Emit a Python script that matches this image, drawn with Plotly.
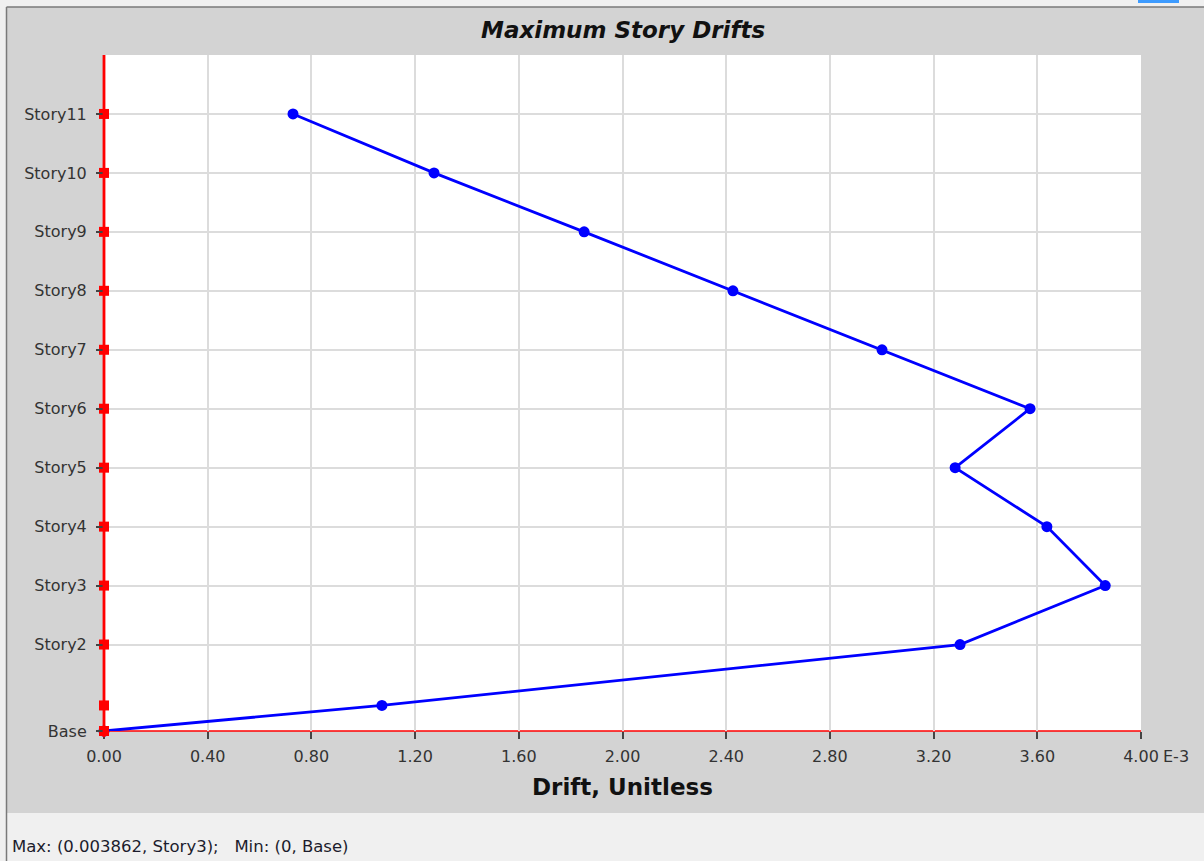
import plotly.graph_objects as go

# Story levels (elevation in m) and maximum drift per story (unitless)
stories = ["Base", "Story1", "Story2", "Story3", "Story4", "Story5", "Story6",
           "Story7", "Story8", "Story9", "Story10", "Story11"]
elevations = [0.0, 1.3, 4.4, 7.4, 10.4, 13.4, 16.4, 19.4, 22.4, 25.4, 28.4, 31.4]
drifts = [0.0, 0.001072, 0.003302, 0.003862, 0.003637, 0.003283, 0.003572,
          0.003001, 0.002426, 0.001852, 0.001273, 0.000729]

# Labelled story levels on the vertical axis
y_labels = ["Base", "Story2", "Story3", "Story4", "Story5", "Story6",
            "Story7", "Story8", "Story9", "Story10", "Story11"]
# Horizontal tick values, in units of 1E-3
x_ticks_e3 = [0.0, 0.4, 0.8, 1.2, 1.6, 2.0, 2.4, 2.8, 3.2, 3.6, 4.0]

W, H = 1204, 861
L, R, T, B = 104, 1141, 55, 731
FONT = "DejaVu Sans"


def px(x):
    return (x - L) / (R - L)


def py(y):
    return (B - y) / (B - T)


y_tickvals = [elevations[stories.index(s)] for s in y_labels]
x_tickvals = [v * 1e-3 for v in x_ticks_e3]
x_ticktext = ["%.2f" % v for v in x_ticks_e3]

i_max = max(range(len(drifts)), key=lambda i: drifts[i])
i_min = min(range(len(drifts)), key=lambda i: drifts[i])
status = "Max: (%g, %s);&nbsp;&nbsp; Min: (%g, %s)" % (
    drifts[i_max], stories[i_max], drifts[i_min], stories[i_min])

fig = go.Figure()

# Drift profile
fig.add_trace(go.Scatter(
    x=drifts, y=elevations, mode="lines+markers",
    line=dict(color="#0000ff", width=2.8),
    marker=dict(symbol="circle", size=11, color="#0000ff"),
    text=stories, cliponaxis=False, showlegend=False))

# Story level markers on the reference axis
fig.add_trace(go.Scatter(
    x=[0.0] * len(elevations), y=elevations, mode="markers",
    marker=dict(symbol="square", size=10, color="#ff0000"),
    cliponaxis=False, hoverinfo="skip", showlegend=False))

shapes = [
    # light window strips around the chart panel
    dict(type="rect", xref="paper", yref="paper", x0=px(0), x1=px(W),
         y0=py(7), y1=py(0), fillcolor="#f0f0f0", line_width=0, layer="below"),
    dict(type="rect", xref="paper", yref="paper", x0=px(0), x1=px(6),
         y0=py(H), y1=py(0), fillcolor="#f0f0f0", line_width=0, layer="below"),
    dict(type="rect", xref="paper", yref="paper", x0=px(0), x1=px(W),
         y0=py(H), y1=py(813), fillcolor="#f0f0f0", line_width=0, layer="below"),
    # panel frame
    dict(type="line", xref="paper", yref="paper", x0=px(6.5), x1=px(6.5),
         y0=py(H), y1=py(7), line=dict(color="#7a7a7a", width=1.5)),
    dict(type="line", xref="paper", yref="paper", x0=px(6.5), x1=px(W),
         y0=py(7), y1=py(7), line=dict(color="#7a7a7a", width=1.5)),
    # small selection bar in the window corner
    dict(type="rect", xref="paper", yref="paper", x0=px(1138), x1=px(1179),
         y0=py(3), y1=py(0), fillcolor="#3d9bff", line_width=0),
    # red reference axes
    dict(type="line", xref="paper", yref="paper", x0=0, x1=1, y0=0, y1=0,
         line=dict(color="#ff0000", width=1.5), layer="below"),
    dict(type="line", xref="paper", yref="paper", x0=0, x1=0, y0=py(737), y1=1,
         line=dict(color="#ff0000", width=2.8), layer="above"),
]

annotations = [
    dict(text="<b><i>Maximum Story Drifts</i></b>", xref="paper", yref="paper",
         x=0.5, y=py(30), xanchor="center", yanchor="middle", showarrow=False,
         font=dict(family=FONT, size=23, color="#111111")),
    dict(text="<b>Drift, Unitless</b>", xref="paper", yref="paper",
         x=0.5, y=py(787), xanchor="center", yanchor="middle", showarrow=False,
         font=dict(family=FONT, size=23, color="#111111")),
    dict(text="E-3", xref="paper", yref="paper",
         x=px(1161), y=py(756), xanchor="left", yanchor="middle", showarrow=False,
         font=dict(family=FONT, size=16, color="#333333")),
    dict(text=status, xref="paper", yref="paper",
         x=px(10), y=py(846), xanchor="left", yanchor="middle", showarrow=False,
         font=dict(family=FONT, size=16.5, color="#1c1c2c")),
]

fig.update_layout(
    width=W, height=H,
    margin=dict(l=L, r=W - R, t=T, b=H - B, pad=0),
    paper_bgcolor="#d3d3d3",
    plot_bgcolor="#ffffff",
    font=dict(family=FONT, size=16, color="#333333"),
    shapes=shapes,
    annotations=annotations,
    showlegend=False,
    xaxis=dict(
        range=[0, 0.004], tickmode="array", tickvals=x_tickvals,
        ticktext=x_ticktext, ticks="outside", ticklen=7, tickwidth=1.5,
        tickcolor="#444444", showgrid=True, gridcolor="#dcdcdc", gridwidth=2,
        zeroline=False, showline=False, fixedrange=True, ticklabelstandoff=4,
        tickfont=dict(family=FONT, size=16, color="#333333")),
    yaxis=dict(
        range=[0, 34.4], tickmode="array", tickvals=y_tickvals,
        ticktext=y_labels, ticks="outside", ticklen=7, tickwidth=1.5,
        tickcolor="#444444", showgrid=True, gridcolor="#dcdcdc", gridwidth=2,
        zeroline=False, showline=False, fixedrange=True, ticklabelstandoff=6,
        tickfont=dict(family=FONT, size=16, color="#333333")),
)

fig.write_html("out.html")
